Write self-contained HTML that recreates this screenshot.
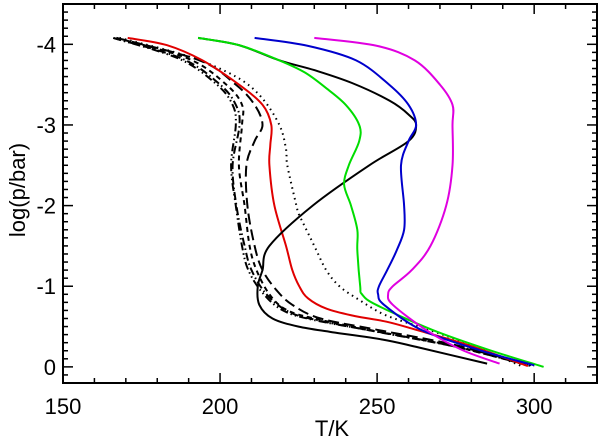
<!DOCTYPE html>
<html><head><meta charset="utf-8"><style>
html,body{margin:0;padding:0;background:#fff;}
svg{display:block;font-family:"Liberation Sans",Arial,sans-serif;}
</style></head><body>
<svg id="chart" width="600" height="438" viewBox="0 0 600 438" xmlns="http://www.w3.org/2000/svg">
<g id="ticks"></g>
<g id="series"></g>
<rect x="63" y="4" width="534" height="379" fill="none" stroke="#000" stroke-width="2"/>
<g id="labels" font-size="22" fill="#000"></g>
<text x="332" y="436" font-size="22" text-anchor="middle">T/K</text>
<text transform="translate(25,190) rotate(-90)" font-size="22" text-anchor="middle">log(p/bar)</text>
</svg>
<script>
const xTicks=[150,200,250,300];
const yTicks=[0,-1,-2,-3,-4];
const magentaT=[230,250,262,270,274,274,274,272,267,261,255,253.5,255,265.5,277,289];
const magentaP=[-4.08,-3.98,-3.8,-3.5,-3.25,-3.0,-2.5,-2.0,-1.5,-1.2,-1.0,-0.9,-0.77,-0.46,-0.21,-0.04];
const blueT=[211,228,243.3,253.8,260,262.4,260,257.6,258.6,258.6,256.3,253.2,250.6,250.3,252.2,264,282.4,300];
const blueP=[-4.08,-3.98,-3.8,-3.5,-3.25,-3.0,-2.8,-2.5,-2.0,-1.7,-1.45,-1.2,-1.0,-0.9,-0.77,-0.46,-0.21,-0.02];
const greenT=[193,206,218.9,227,234,240,244.3,244.3,241,239.5,241.7,243.7,243.7,244.6,245.2,249.7,267.5,285.6,303];
const greenP=[-4.08,-3.99,-3.8,-3.65,-3.45,-3.25,-3.0,-2.8,-2.5,-2.26,-2.0,-1.7,-1.45,-1.0,-0.9,-0.77,-0.46,-0.21,0];
const blackT=[193,206,219,230,242,254,260,262.4,260,247.5,229.5,215.7,213.5,212,212.5,216.7,225,235.7,251.6,263.3,285];
const blackP=[-4.08,-3.99,-3.8,-3.68,-3.52,-3.3,-3.13,-3.0,-2.8,-2.5,-2.0,-1.5,-1.2,-1.0,-0.77,-0.6,-0.5,-0.43,-0.34,-0.24,-0.04];
const redT=[170.6,183,194.4,206,213.5,216.3,216,215.7,217.3,221,223,225.2,228,234,243,253,262.4,279,298];
const redP=[-4.08,-3.99,-3.8,-3.5,-3.25,-3.0,-2.75,-2.5,-2.0,-1.5,-1.2,-1.0,-0.85,-0.72,-0.63,-0.56,-0.46,-0.27,-0.01];
const dotT=[168,190,205,213,218.9,221,221.4,224.3,225,227.5,230.6,233.8,238,244.3,252.8,266.5,280,296];
const dotP=[-4.08,-3.85,-3.6,-3.35,-3.0,-2.7,-2.5,-2.0,-1.9,-1.7,-1.45,-1.2,-1.0,-0.83,-0.64,-0.46,-0.27,-0.01];
const dashAT=[167,193.5,205,211,213.5,211,208.4,208.7,211,213.5,218,223,232,250,275,297];
const dashAP=[-4.08,-3.8,-3.5,-3.25,-3.0,-2.8,-2.5,-2.0,-1.5,-1.2,-0.95,-0.77,-0.6,-0.46,-0.27,-0.03];
const dashBT=[167,190,202,207,207,206,207.8,209.4,211.6,215.7,221,230,250,275,298];
const dashBP=[-4.08,-3.82,-3.5,-3.25,-3.0,-2.5,-2.0,-1.5,-1.2,-0.9,-0.71,-0.6,-0.44,-0.25,-0.02];
const dashCT=[166,188,200,205,206.2,204,205.2,207.8,210,214.8,222,232,252,276,299];
const dashCP=[-4.08,-3.82,-3.5,-3.25,-3.0,-2.5,-2.0,-1.5,-1.2,-0.9,-0.68,-0.57,-0.42,-0.24,-0.01];
const dashDT=[166,187,199,204,205,203.5,205,207,209,213.5,220,230,251,277,300];
const dashDP=[-4.08,-3.82,-3.5,-3.25,-3.0,-2.5,-2.0,-1.5,-1.2,-0.92,-0.7,-0.58,-0.43,-0.24,-0.01];

const X0=63,X1=597,Y0=4,Y1=383,TMIN=150,TMAX=320,PTOP=-4.5,PBOT=0.2;
function xs(t){return X0+(t-TMIN)/(TMAX-TMIN)*(X1-X0);}
function ys(p){return Y0+(p-PTOP)/(PBOT-PTOP)*(Y1-Y0);}
const NS="http://www.w3.org/2000/svg";
function mk(tag,attrs,parent){const e=document.createElementNS(NS,tag);for(const k in attrs)e.setAttribute(k,attrs[k]);parent.appendChild(e);return e;}
const tg=document.getElementById('ticks');
const lg=document.getElementById('labels');
for(let t=150;t<=320;t+=10){
  const major=(t%50===0);const L=major?10:5;const x=xs(t);
  const a=mk('line',{x1:x,x2:x,y1:Y1,y2:Y1-L,stroke:'#000','stroke-width':1.5},tg);
  
  
  const b=mk('line',{x1:x,x2:x,y1:Y0,y2:Y0+L,stroke:'#000','stroke-width':1.5},tg);
  
  
}
for(let i=-45;i<=2;i++){
  const p=i/10;const major=(i%10===0);const L=major?10:5;const y=ys(p);
  const a=mk('line',{x1:X0,x2:X0+L,y1:y,y2:y,stroke:'#000','stroke-width':1.5},tg);
  
  
  const b=mk('line',{x1:X1,x2:X1-L,y1:y,y2:y,stroke:'#000','stroke-width':1.5},tg);
  
  
}
xTicks.forEach(t=>{
  const e=mk('text',{x:xs(t),y:414,'text-anchor':'middle'},lg);e.textContent=String(t);
  
  
});
yTicks.forEach(p=>{
  const e=mk('text',{x:56,y:ys(p)+8,'text-anchor':'end'},lg);e.textContent=String(p);
  
  
});
function pathD(T,P){
  const pts=T.map((t,i)=>[xs(t),ys(P[i])]);
  let d='M'+pts[0][0].toFixed(1)+','+pts[0][1].toFixed(1);
  for(let i=0;i<pts.length-1;i++){
    const p0=pts[i-1]||pts[i],p1=pts[i],p2=pts[i+1],p3=pts[i+2]||p2;
    const c1=[p1[0]+(p2[0]-p0[0])/6,p1[1]+(p2[1]-p0[1])/6];
    const c2=[p2[0]-(p3[0]-p1[0])/6,p2[1]-(p3[1]-p1[1])/6];
    d+=' C'+c1[0].toFixed(1)+','+c1[1].toFixed(1)+' '+c2[0].toFixed(1)+','+c2[1].toFixed(1)+' '+p2[0].toFixed(1)+','+p2[1].toFixed(1);
  }
  return d;
}
const sg=document.getElementById('series');
const seriesList=[
  ['dash-dot-dot-profile',dashDT,dashDP,'#000','8,3,1.5,3,1.5,3'],
  ['dash-dot-profile',dashCT,dashCP,'#000','8,3,1.5,3'],
  ['short-dash-profile',dashBT,dashBP,'#000','5,4'],
  ['long-dash-profile',dashAT,dashAP,'#000','11,5'],
  ['dotted-profile',dotT,dotP,'#000','1.5,4'],
  ['red-profile',redT,redP,'#e00000',''],
  ['black-solid-profile',blackT,blackP,'#000',''],
  ['green-profile',greenT,greenP,'#00dd00',''],
  ['blue-profile',blueT,blueP,'#0000cc',''],
  ['magenta-profile',magentaT,magentaP,'#e000e0','']
];
seriesList.forEach(s=>{
  const e=mk('path',{d:pathD(s[1],s[2]),fill:'none',stroke:s[3],'stroke-width':2,'stroke-linejoin':'round'},sg);
  if(s[4])e.setAttribute('stroke-dasharray',s[4]);
  
  
});
</script>
</body></html>
